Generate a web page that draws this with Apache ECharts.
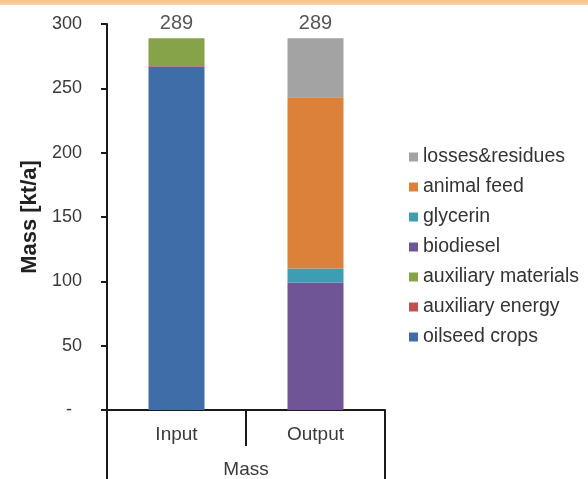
<!DOCTYPE html>
<html>
<head>
<meta charset="utf-8">
<script src="https://cdn.jsdelivr.net/npm/echarts@6/dist/echarts.min.js"></script>
<style>
  html, body { margin: 0; padding: 0; background: #fff; }
  #wrap { position: relative; width: 588px; height: 479px; overflow: hidden; }
  #band { position: absolute; left: 0; top: 0; width: 588px; height: 5px;
          background: linear-gradient(#f7c189, #fbd3aa); z-index: 2; }
  #chart { position: absolute; left: 0; top: 0; width: 588px; height: 479px; }
</style>
</head>
<body>
<div id="wrap">
  <div id="band"></div>
  <div id="chart"></div>
</div>
<script>
// Mass balance of a biodiesel plant, kt/a
const categories = ['Input', 'Output'];
const groupLabel = 'Mass';
const yTicks = { min: 0, max: 300, step: 50 };

const oilseedCrops       = [267.0, 0];
const auxiliaryEnergy    = [0.3, 0];
const auxiliaryMaterials = [21.7, 0];
const biodiesel          = [0, 99.0];
const glycerin           = [0, 11.0];
const animalFeed         = [0, 133.0];
const lossesResidues     = [0, 46.0];

const seriesDefs = [
  { name: 'oilseed crops',       data: oilseedCrops,       color: '#3f6da8' },
  { name: 'auxiliary energy',    data: auxiliaryEnergy,    color: '#c0504d' },
  { name: 'auxiliary materials', data: auxiliaryMaterials, color: '#86a34a' },
  { name: 'biodiesel',           data: biodiesel,          color: '#6f5596' },
  { name: 'glycerin',            data: glycerin,           color: '#3c9db5' },
  { name: 'animal feed',         data: animalFeed,         color: '#dc813a' },
  { name: 'losses&residues',     data: lossesResidues,     color: '#a3a3a3' }
];

const totals = categories.map((_, i) =>
  seriesDefs.reduce((s, d) => s + d.data[i], 0));

const font = 'Liberation Sans, Arial, sans-serif';
const textColor = '#3a3a3a';

const chart = echarts.init(document.getElementById('chart'), null, { renderer: 'canvas' });

const series = seriesDefs.map(d => ({
  name: d.name,
  type: 'bar',
  stack: 'mass',
  barWidth: 56,
  itemStyle: { color: d.color },
  emphasis: { disabled: true },
  data: d.data
}));

series.push({
  name: 'total',
  type: 'scatter',
  symbolSize: 0,
  silent: true,
  label: {
    show: true,
    position: 'top',
    distance: 5,
    fontFamily: font,
    fontSize: 20,
    color: '#2a2a2a',
    formatter: p => Math.round(p.value)
  },
  data: totals
});

chart.setOption({
  animation: false,
  backgroundColor: '#fff',
  grid: { left: 107, right: 203, top: 24, bottom: 69 },
  legend: {
    data: seriesDefs.map(d => d.name).reverse(),
    orient: 'vertical',
    left: 404,
    top: 142,
    itemWidth: 9,
    itemHeight: 9,
    itemGap: 10,
    icon: 'rect',
    selectedMode: false,
    textStyle: { fontFamily: font, fontSize: 19.5, color: '#333', lineHeight: 20 }
  },
  xAxis: [
    {
      type: 'category',
      data: categories,
      axisLine: { show: true, lineStyle: { color: '#1a1a1a', width: 2 } },
      axisTick: { show: true, length: 36, lineStyle: { color: '#1a1a1a', width: 2 } },
      axisLabel: { margin: 15, fontFamily: font, fontSize: 19, color: textColor }
    },
    {
      type: 'category',
      data: [groupLabel],
      position: 'bottom',
      axisLine: { show: false },
      axisTick: { show: true, length: 69, alignWithLabel: false, lineStyle: { color: '#1a1a1a', width: 2 } },
      axisLabel: { margin: 50, fontFamily: font, fontSize: 19, color: textColor }
    }
  ],
  yAxis: {
    type: 'value',
    min: yTicks.min,
    max: yTicks.max,
    interval: yTicks.step,
    name: 'Mass [kt/a]',
    nameLocation: 'middle',
    nameGap: 66,
    nameTextStyle: { fontFamily: font, fontSize: 22, fontWeight: 'bold', color: '#222' },
    axisLine: { show: true, lineStyle: { color: '#1a1a1a', width: 2 } },
    axisTick: { show: true, length: 6, lineStyle: { color: '#1a1a1a', width: 2 } },
    splitLine: { show: false },
    axisLabel: {
      margin: 25,
      fontFamily: font,
      fontSize: 18,
      color: textColor,
      formatter: v => v === 0 ? '{dash|-}' : String(v),
      rich: { dash: { fontFamily: font, fontSize: 18, color: textColor, padding: [0, 10, 0, 0] } }
    }
  },
  series: series
});
</script>
</body>
</html>
